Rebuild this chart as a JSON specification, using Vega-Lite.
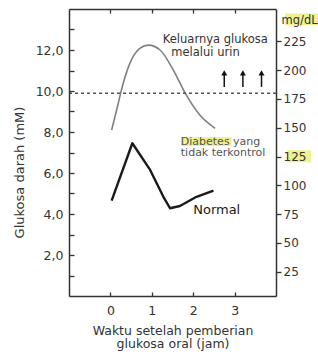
{
  "$schema": "https://vega.github.io/schema/vega-lite/v6.json",
  "width": 207,
  "height": 287,
  "autosize": "none",
  "padding": {"left": 69, "top": 9, "right": 42, "bottom": 58},
  "background": "white",
  "config": {
    "view": {"stroke": null},
    "font": "DejaVu Sans",
    "axis": {
      "grid": false,
      "domainColor": "#333333",
      "domainWidth": 1.5,
      "tickColor": "#333333",
      "tickWidth": 1.3,
      "labelColor": "#333333",
      "labelFont": "DejaVu Sans",
      "titleFont": "DejaVu Sans",
      "titleColor": "#333333",
      "titleFontWeight": "normal"
    }
  },
  "datasets": {
    "curves": [
      {"series": "Diabetes", "t": 0.03, "mM": 8.1},
      {"series": "Diabetes", "t": 0.19, "mM": 9.4},
      {"series": "Diabetes", "t": 0.25, "mM": 9.92},
      {"series": "Diabetes", "t": 0.47, "mM": 11.35},
      {"series": "Diabetes", "t": 0.71, "mM": 12.08},
      {"series": "Diabetes", "t": 0.92, "mM": 12.24},
      {"series": "Diabetes", "t": 1.2, "mM": 12.0},
      {"series": "Diabetes", "t": 1.52, "mM": 11.02},
      {"series": "Diabetes", "t": 1.8, "mM": 9.92},
      {"series": "Diabetes", "t": 2.16, "mM": 8.83},
      {"series": "Diabetes", "t": 2.53, "mM": 8.18},
      {"series": "Normal", "t": 0.03, "mM": 4.65},
      {"series": "Normal", "t": 0.53, "mM": 7.45},
      {"series": "Normal", "t": 0.96, "mM": 6.15},
      {"series": "Normal", "t": 1.28, "mM": 4.84},
      {"series": "Normal", "t": 1.44, "mM": 4.28},
      {"series": "Normal", "t": 1.68, "mM": 4.39},
      {"series": "Normal", "t": 2.08, "mM": 4.84},
      {"series": "Normal", "t": 2.49, "mM": 5.14}
    ],
    "urineNote": [
      {"text": "Keluarnya glukosa", "t": 2.534, "mM": 12.49},
      {"text": "melalui urin", "t": 2.297, "mM": 11.85}
    ],
    "diabetesNote": [
      {"text": "Diabetes yang", "t": 1.7, "mM": 7.53},
      {"text": "tidak terkontrol", "t": 1.7, "mM": 6.96}
    ],
    "normalNote": [
      {"text": "Normal", "t": 2.0, "mM": 4.2}
    ],
    "highlightMM": [
      {"t": 1.7, "t2": 2.93, "mM": 7.32, "mM2": 7.76}
    ],
    "highlightMG": [
      {"t": 4.22, "t2": 5.3, "mg": 238.9, "mg2": 249.1},
      {"t": 4.27, "t2": 4.85, "mg": 120, "mg2": 130.5}
    ],
    "threshold": [
      {"t": -1, "t2": 4, "mg": 180}
    ],
    "arrows": [
      {"t": 2.75, "mg": 185.4, "mg2": 196},
      {"t": 3.2, "mg": 185.4, "mg2": 196},
      {"t": 3.65, "mg": 185.4, "mg2": 196}
    ],
    "arrowheads": [
      {"t": 2.75, "mg": 197.5},
      {"t": 3.2, "mg": 197.5},
      {"t": 3.65, "mg": 197.5}
    ]
  },
  "resolve": {"scale": {"y": "independent"}, "axis": {"x": "independent"}},
  "layer": [
    {
      "encoding": {
        "x": {"field": "t", "type": "quantitative", "scale": {"domain": [-1, 4]},
          "axis": {"orient": "bottom", "zindex": 1, "values": [0, 1, 2, 3], "tickSize": -4, "labelFontSize": 12.5, "labelPadding": 12, "labelFlush": false,
            "title": ["Waktu setelah pemberian", "glukosa oral (jam)"], "titleFontSize": 12.5, "titleLineHeight": 13.5, "titleBaseline": "alphabetic", "titleY": 38}},
        "y": {"field": "mM", "type": "quantitative", "scale": {"domain": [0, 14]},
          "axis": {"orient": "left", "zindex": 1, "values": [1, 2, 3, 4, 5, 6, 7, 8, 9, 10, 11, 12, 13], "tickSize": -5, "labelFontSize": 12.5, "labelPadding": 11, "labelOverlap": false,
            "labelExpr": "datum.value % 2 == 0 ? replace(format(datum.value, '.1f'), '.', ',') : ''",
            "title": "Glukosa darah (mM)", "titleFontSize": 13, "titleAngle": -90, "titleAlign": "center", "titleBaseline": "alphabetic", "titleX": -46, "titleY": 163}}
      },
      "layer": [
        {
          "data": {"name": "highlightMM"},
          "mark": {"type": "rect", "color": "#ecee7a", "opacity": 0.85},
          "encoding": {"x2": {"field": "t2"}, "y2": {"field": "mM2"}}
        },
        {
          "data": {"name": "curves"},
          "transform": [{"filter": "datum.series == 'Diabetes'"}],
          "mark": {"type": "line", "color": "#808080", "strokeWidth": 1.6, "interpolate": "monotone"}
        },
        {
          "data": {"name": "curves"},
          "transform": [{"filter": "datum.series == 'Normal'"}],
          "mark": {"type": "line", "color": "#1a1a1a", "strokeWidth": 2.4, "strokeJoin": "round"}
        },
        {
          "data": {"name": "urineNote"},
          "mark": {"type": "text", "fontSize": 11.5, "color": "#333333", "align": "center", "baseline": "middle"},
          "encoding": {"text": {"field": "text"}}
        },
        {
          "data": {"name": "diabetesNote"},
          "mark": {"type": "text", "fontSize": 11, "color": "#555555", "align": "left", "baseline": "middle"},
          "encoding": {"text": {"field": "text"}}
        },
        {
          "data": {"name": "normalNote"},
          "mark": {"type": "text", "fontSize": 13, "color": "#1a1a1a", "align": "left", "baseline": "middle"},
          "encoding": {"text": {"field": "text"}}
        }
      ]
    },
    {
      "encoding": {
        "x": {"field": "t", "type": "quantitative", "scale": {"domain": [-1, 4]},
          "axis": {"orient": "top", "zindex": 1, "values": [0, 1, 2, 3], "tickSize": -4, "labels": false, "title": null}},
        "y": {"field": "mg", "type": "quantitative", "scale": {"domain": [4, 253]},
          "axis": {"orient": "right", "zindex": 1, "values": [25, 50, 75, 100, 125, 150, 175, 200, 225], "tickSize": 5, "labelFontSize": 12, "labelPadding": 2, "labelOverlap": false,
            "title": "mg/dL", "titleFontSize": 11.5, "titleAngle": 0, "titleAlign": "left", "titleBaseline": "middle", "titleX": 5, "titleY": 11}}
      },
      "layer": [
        {
          "data": {"name": "highlightMG"},
          "mark": {"type": "rect", "color": "#ecee7a", "opacity": 0.85},
          "encoding": {"x2": {"field": "t2"}, "y2": {"field": "mg2"}}
        },
        {
          "data": {"name": "threshold"},
          "mark": {"type": "rule", "color": "#555555", "strokeWidth": 1.5, "strokeDash": [3, 3]},
          "encoding": {"x2": {"field": "t2"}}
        },
        {
          "data": {"name": "arrows"},
          "mark": {"type": "rule", "color": "#111111", "strokeWidth": 1.5},
          "encoding": {"y2": {"field": "mg2"}}
        },
        {
          "data": {"name": "arrowheads"},
          "mark": {"type": "point", "shape": "triangle-up", "filled": true, "color": "#111111", "size": 36, "opacity": 1}
        }
      ]
    }
  ]
}
